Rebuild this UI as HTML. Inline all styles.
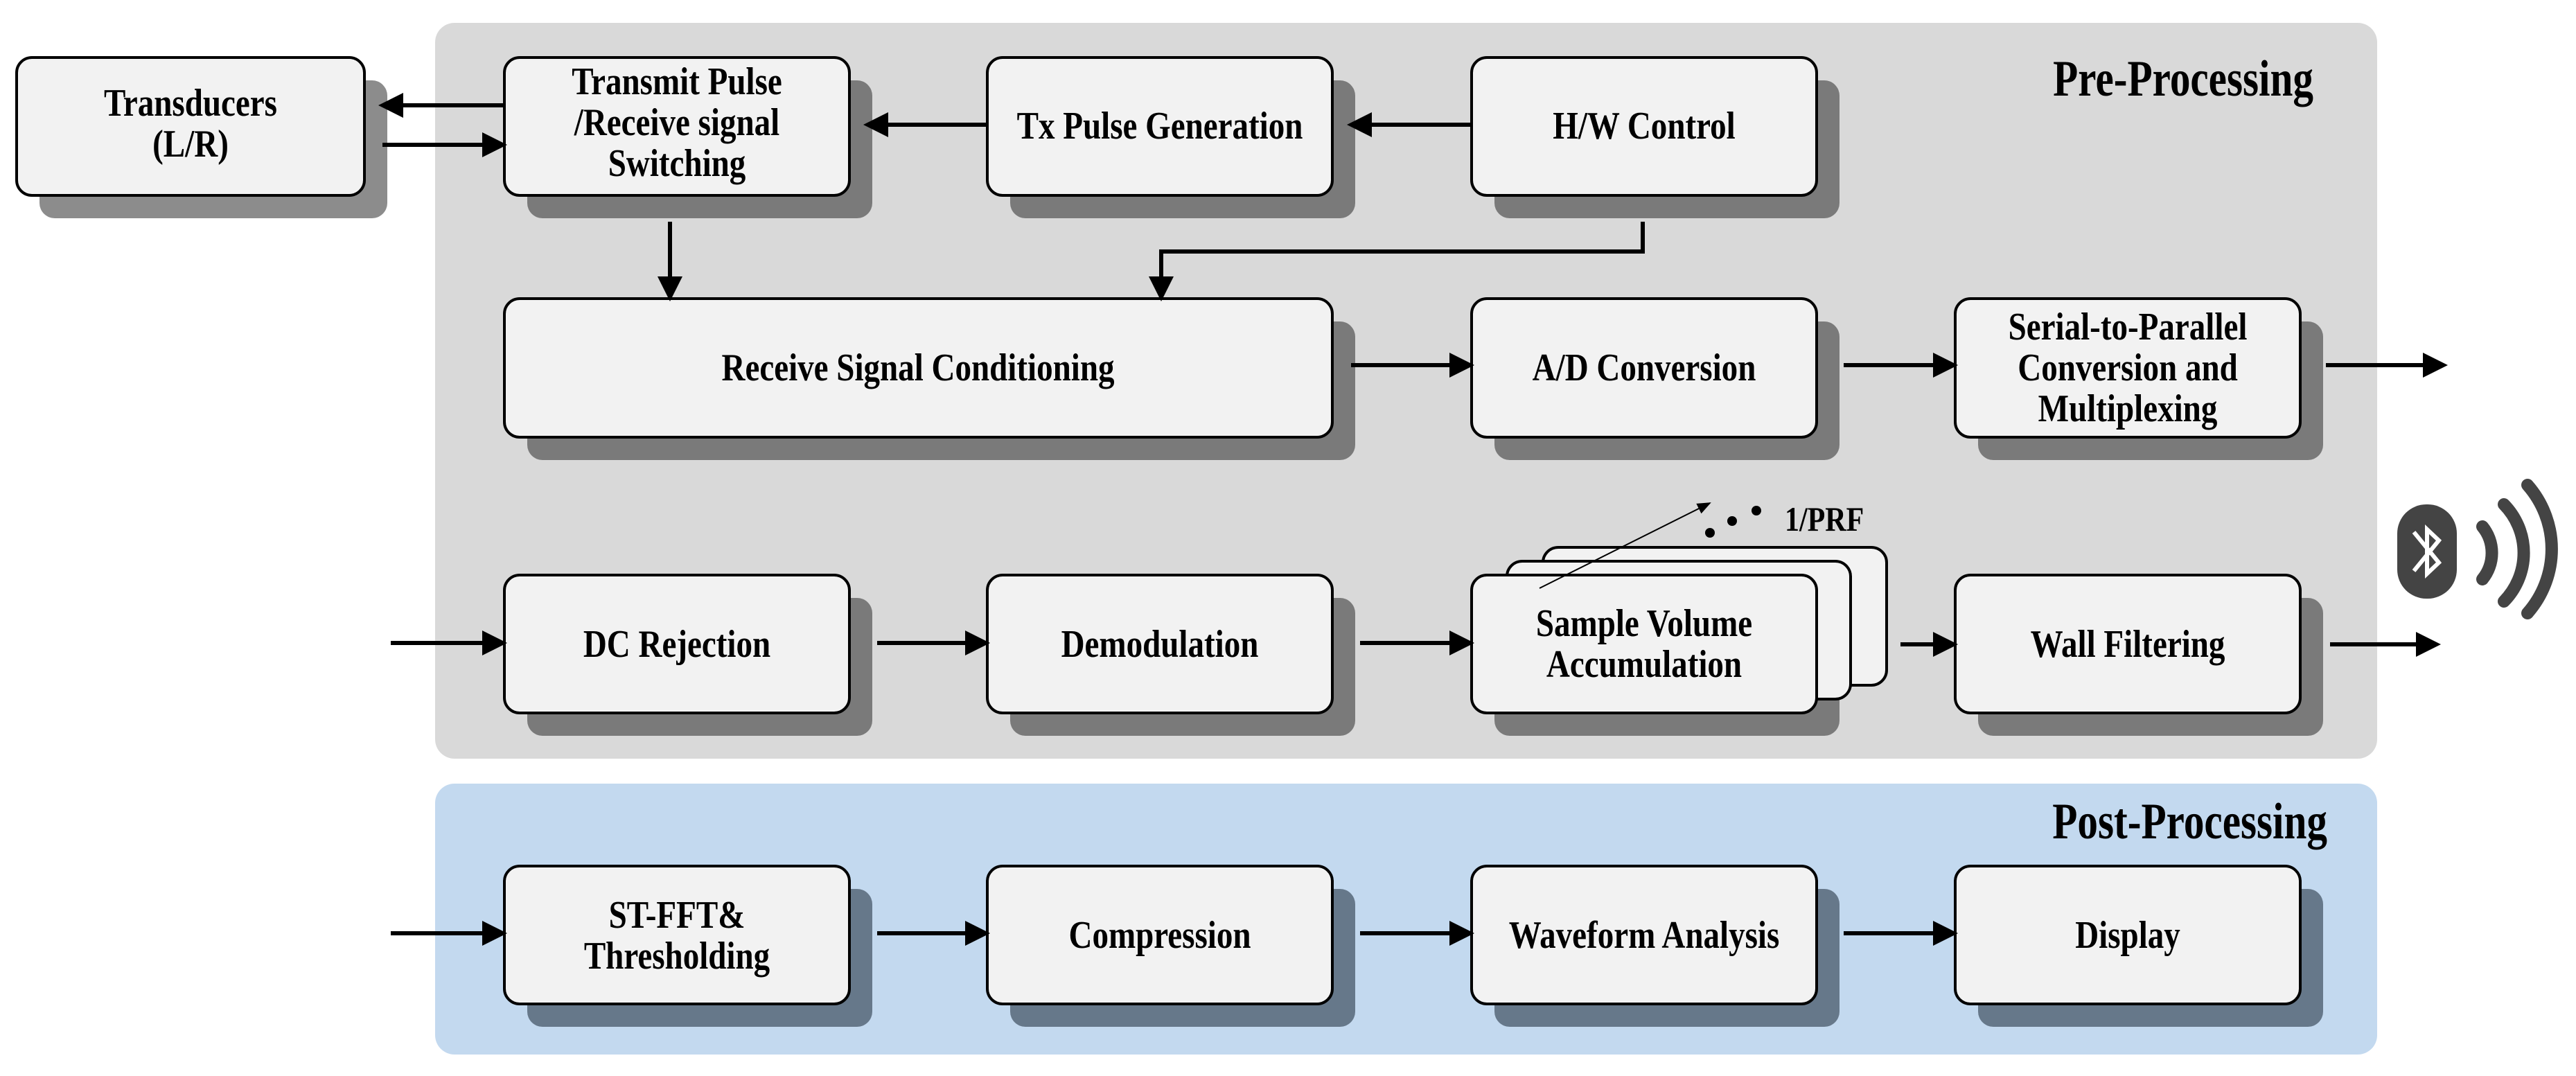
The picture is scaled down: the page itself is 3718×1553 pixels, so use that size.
<!DOCTYPE html>
<html><head><meta charset="utf-8"><style>
html,body{margin:0;padding:0;background:#fff;}
svg{display:block}
text{font-family:"Liberation Serif",serif;font-weight:bold;fill:#000;}
</style></head><body>
<svg width="3718" height="1553" viewBox="0 0 3718 1553" xmlns="http://www.w3.org/2000/svg">
<defs>
<marker id="ah" markerWidth="6" markerHeight="6" refX="5" refY="3" orient="auto" markerUnits="strokeWidth">
<path d="M0,0 L6,3 L0,6 z" fill="#000"/></marker>
<marker id="ahs" markerWidth="10" markerHeight="10" refX="9" refY="5" orient="auto" markerUnits="strokeWidth">
<path d="M0,1 L10,5 L0,9 z" fill="#000"/></marker>
</defs>
<rect x="628" y="33" width="2803" height="1062" rx="28" fill="#d9d9d9"/>
<rect x="628" y="1131" width="2803" height="391" rx="28" fill="#c3d9ef"/>
<text transform="translate(3339,138) scale(0.8,1)" text-anchor="end" font-size="74">Pre-Processing</text>
<text transform="translate(3359,1210) scale(0.8,1)" text-anchor="end" font-size="74">Post-Processing</text>

<g>
<rect x="57" y="116" width="502" height="199" rx="22" fill="#8c8c8c"/>
<g fill="#7a7a7a">
<rect x="761" y="116" width="498" height="199" rx="22"/>
<rect x="1458" y="116" width="498" height="199" rx="22"/>
<rect x="2157" y="116" width="498" height="199" rx="22"/>
<rect x="761" y="464" width="1195" height="200" rx="22"/>
<rect x="2157" y="464" width="498" height="200" rx="22"/>
<rect x="2855" y="464" width="498" height="200" rx="22"/>
<rect x="761" y="863" width="498" height="199" rx="22"/>
<rect x="1458" y="863" width="498" height="199" rx="22"/>
<rect x="2157" y="863" width="498" height="199" rx="22"/>
<rect x="2855" y="863" width="498" height="199" rx="22"/>
</g>
<g fill="#66788a">
<rect x="761" y="1283" width="498" height="199" rx="22"/>
<rect x="1458" y="1283" width="498" height="199" rx="22"/>
<rect x="2157" y="1283" width="498" height="199" rx="22"/>
<rect x="2855" y="1283" width="498" height="199" rx="22"/>
</g>
</g>

<g fill="#f2f2f2" stroke="#000" stroke-width="4">
<rect x="24" y="83" width="502" height="199" rx="22"/>
<rect x="728" y="83" width="498" height="199" rx="22"/>
<rect x="1425" y="83" width="498" height="199" rx="22"/>
<rect x="2124" y="83" width="498" height="199" rx="22"/>
<rect x="728" y="431" width="1195" height="200" rx="22"/>
<rect x="2124" y="431" width="498" height="200" rx="22"/>
<rect x="2822" y="431" width="498" height="200" rx="22"/>
<rect x="728" y="830" width="498" height="199" rx="22"/>
<rect x="1425" y="830" width="498" height="199" rx="22"/>
<rect x="2227" y="790" width="496" height="199" rx="22"/>
<rect x="2175" y="810" width="496" height="199" rx="22"/>
<rect x="2124" y="830" width="498" height="199" rx="22"/>
<rect x="2822" y="830" width="498" height="199" rx="22"/>
<rect x="728" y="1250" width="498" height="199" rx="22"/>
<rect x="1425" y="1250" width="498" height="199" rx="22"/>
<rect x="2124" y="1250" width="498" height="199" rx="22"/>
<rect x="2822" y="1250" width="498" height="199" rx="22"/>
</g>

<g font-size="56" text-anchor="middle">
<text transform="translate(275,167) scale(0.84,1)">Transducers</text>
<text transform="translate(275,226) scale(0.84,1)">(L/R)</text>
<text transform="translate(977,136) scale(0.84,1)">Transmit Pulse</text>
<text transform="translate(977,195) scale(0.84,1)">/Receive signal</text>
<text transform="translate(977,254) scale(0.84,1)">Switching</text>
<text transform="translate(1674,200) scale(0.84,1)">Tx Pulse Generation</text>
<text transform="translate(2373,200) scale(0.84,1)">H/W Control</text>
<text transform="translate(1325,549) scale(0.84,1)">Receive Signal Conditioning</text>
<text transform="translate(2373,549) scale(0.84,1)">A/D Conversion</text>
<text transform="translate(3071,490) scale(0.84,1)">Serial-to-Parallel</text>
<text transform="translate(3071,549) scale(0.84,1)">Conversion and</text>
<text transform="translate(3071,608) scale(0.84,1)">Multiplexing</text>
<text transform="translate(977,948) scale(0.84,1)">DC Rejection</text>
<text transform="translate(1674,948) scale(0.84,1)">Demodulation</text>
<text transform="translate(2373,918) scale(0.84,1)">Sample Volume</text>
<text transform="translate(2373,977) scale(0.84,1)">Accumulation</text>
<text transform="translate(3071,948) scale(0.84,1)">Wall Filtering</text>
<text transform="translate(977,1339) scale(0.84,1)">ST-FFT&amp;</text>
<text transform="translate(977,1398) scale(0.84,1)">Thresholding</text>
<text transform="translate(1674,1368) scale(0.84,1)">Compression</text>
<text transform="translate(2373,1368) scale(0.84,1)">Waveform Analysis</text>
<text transform="translate(3071,1368) scale(0.84,1)">Display</text>
<text transform="translate(2576,766) scale(0.84,1)" text-anchor="start" font-size="50">1/PRF</text>
</g>

<g stroke="#000" stroke-width="6" fill="none" marker-end="url(#ah)">
<line x1="728" y1="152" x2="552" y2="152"/>
<line x1="552" y1="209" x2="726" y2="209"/>
<line x1="1425" y1="180" x2="1252" y2="180"/>
<line x1="2124" y1="180" x2="1950" y2="180"/>
<line x1="967" y1="320" x2="967" y2="429"/>
<polyline points="2371,320 2371,363 1676,363 1676,429"/>
<line x1="1950" y1="527" x2="2122" y2="527"/>
<line x1="2661" y1="527" x2="2820" y2="527"/>
<line x1="3357" y1="527" x2="3527" y2="527"/>
<line x1="564" y1="928" x2="726" y2="928"/>
<line x1="1266" y1="928" x2="1423" y2="928"/>
<line x1="1963" y1="928" x2="2122" y2="928"/>
<line x1="2743" y1="930" x2="2820" y2="930"/>
<line x1="3363" y1="930" x2="3517" y2="930"/>
<line x1="564" y1="1347" x2="726" y2="1347"/>
<line x1="1266" y1="1347" x2="1423" y2="1347"/>
<line x1="1963" y1="1347" x2="2122" y2="1347"/>
<line x1="2661" y1="1347" x2="2820" y2="1347"/>
</g>
<line x1="2222" y1="849" x2="2468" y2="726" stroke="#000" stroke-width="2" marker-end="url(#ahs)"/>
<circle cx="2468" cy="769" r="7" fill="#000"/>
<circle cx="2500" cy="752" r="7" fill="#000"/>
<circle cx="2535" cy="737" r="7" fill="#000"/>

<rect x="3460" y="728" width="86" height="136" rx="42" fill="#444"/>
<polyline points="3484,768 3520,812 3503,828 3503,764 3520,780 3484,824" fill="none" stroke="#fff" stroke-width="6"/>
<g fill="none" stroke="#444" stroke-width="18" stroke-linecap="round">
<path d="M3583,760 A60,60 0 0 1 3583,836"/>
<path d="M3614,728 A100,100 0 0 1 3614,868"/>
<path d="M3648,700 A140,140 0 0 1 3648,885"/>
</g>
</svg>
</body></html>
